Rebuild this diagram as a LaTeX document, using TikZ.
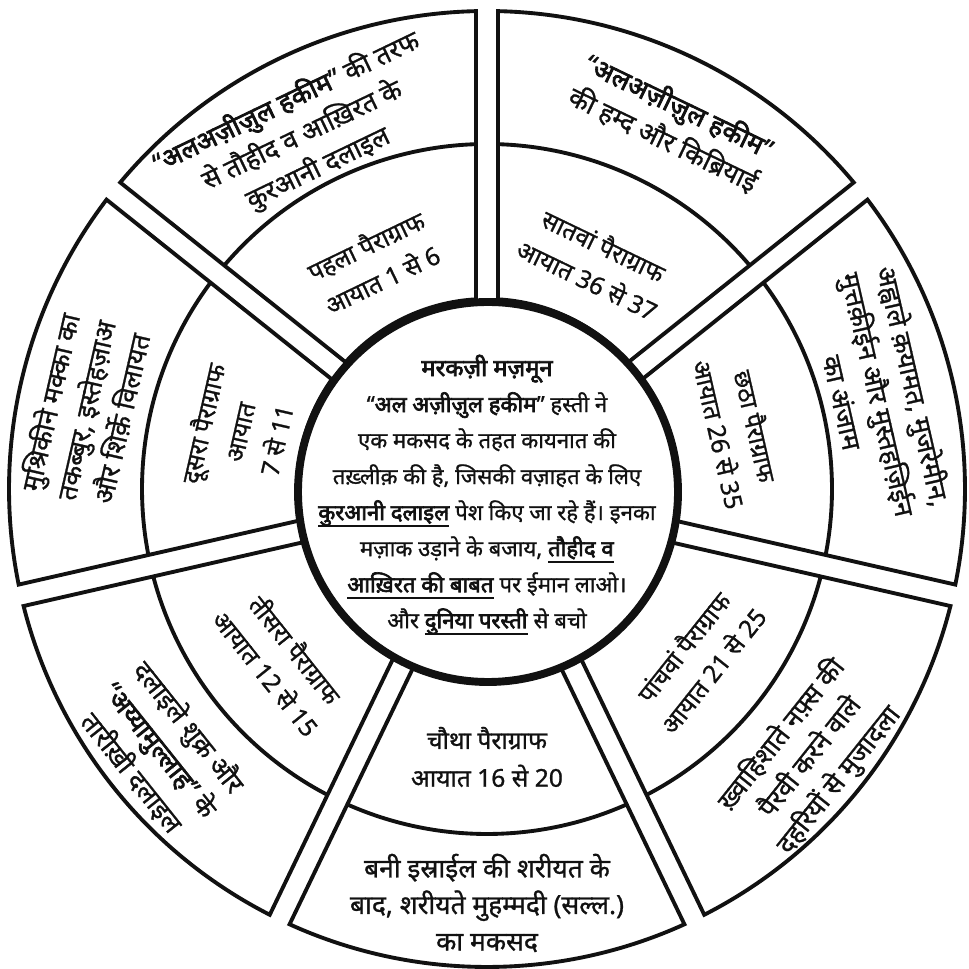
\documentclass[tikz,border=0pt]{standalone}
\usepackage{fontspec}
\setmainfont[Script=Devanagari,FakeBold=1,
  BoldFont={Noto Sans},BoldFeatures={FakeBold=3}]{Noto Sans}
\definecolor{ink}{HTML}{111111}
\tikzset{
  sectorline/.style={draw=ink,line width=2.2pt,line join=miter},
  corering/.style={draw=ink,line width=4.5pt},
  paralabel/.style={align=center,inner sep=0pt,text=ink,
    font=\fontsize{14}{21.5}\selectfont},
  notelabel/.style={align=center,inner sep=0pt,text=ink,
    font=\fontsize{15}{20.8}\selectfont},
  coretext/.style={align=center,inner sep=0pt,text=ink,
    font=\fontsize{12.6}{20.5}\selectfont}
}
\newcommand\thickul[1]{\setbox0=\hbox{#1}\rlap{\rule[-4pt]{\wd0}{1.3pt}}\box0\relax}
\def\rin{3.8}
\def\rmid{6.9}
\def\rout{9.56}
\def\halfgap{0.22}

\begin{document}
\begin{tikzpicture}
\useasboundingbox (-9.74,-9.60) rectangle (9.64,9.78);
\pgfmathsetmacro\din{asin(\halfgap/\rin)}
\pgfmathsetmacro\dmid{asin(\halfgap/\rmid)}
\pgfmathsetmacro\dout{asin(\halfgap/\rout)}
% seven sectors, each split in two by the middle arc
\foreach \k in {0,...,6}{
  \pgfmathsetmacro\ta{90+\k*360/7}
  \pgfmathsetmacro\tb{90+(\k+1)*360/7}
  \pgfmathsetmacro\aIn{\ta+\din}
  \pgfmathsetmacro\bIn{\tb-\din}
  \pgfmathsetmacro\aMid{\ta+\dmid}
  \pgfmathsetmacro\bMid{\tb-\dmid}
  \pgfmathsetmacro\aOut{\ta+\dout}
  \pgfmathsetmacro\bOut{\tb-\dout}
  \draw[sectorline] (\aIn:\rin) -- (\aOut:\rout)
    arc[start angle=\aOut,end angle=\bOut,radius=\rout]
    -- (\bIn:\rin) arc[start angle=\bIn,end angle=\aIn,radius=\rin] -- cycle;
  \draw[sectorline] (\aMid:\rmid) arc[start angle=\aMid,end angle=\bMid,radius=\rmid];
}
\draw[corering,fill=white] (0.02,-0.06) circle (3.8);

% centre
\node[coretext] (markaz) at (0,-0.12) {%
  {\bfseries\fontsize{13.5}{20.5}\selectfont मरकज़ी मज़मून}\\
  “\textbf{अल अज़ीज़ुल हकीम}” हस्ती ने\\
  एक मकसद के तहत कायनात की\\
  तख़्लीक़ की है, जिसकी वज़ाहत के लिए\\
  \thickul{\textbf{कुरआनी दलाइल}} पेश किए जा रहे हैं। इनका\\
  मज़ाक उड़ाने के बजाय, \thickul{\textbf{तौहीद व}}\\
  \thickul{\textbf{आख़िरत की बाबत}} पर ईमान लाओ।\\
  और \thickul{\textbf{दुनिया परस्ती}} से बचो};

% paragraph labels
\node[paralabel,rotate=25.7] (para1) at (116.5:5.08) {पहला पैराग्राफ\\आयात 1 से 6};
\node[paralabel,rotate=77.1] (para2) at (167:5.1) {दूसरा पैराग्राफ\\आयात\\7 से 11};
\node[paralabel,rotate=-51.4] (para3) at (219.9:5.36) {तीसरा पैराग्राफ\\आयात 12 से 15};
\node[paralabel] (para4) at (270:5.36) {चौथा पैराग्राफ\\आयात 16 से 20};
\node[paralabel,rotate=51.4] (para5) at (321.2:5.4) {पांचवां पैराग्राफ\\आयात 21 से 25};
\node[paralabel,rotate=-77.1] (para6) at (13.2:5.16) {छठा पैराग्राफ\\आयात 26 से 35};
\node[paralabel,rotate=-25.7] (para7) at (64.4:5.04) {सातवां पैराग्राफ\\आयात 36 से 37};

% outer notes
\node[notelabel,rotate=25.7] (note1) at (117.6:7.98)
  {“\textbf{अलअज़ीज़ुल हकीम}” की तरफ\\से तौहीद व आख़िरत के\\कुरआनी दलाइल};
\node[notelabel,rotate=77.1] (note2) at (168.9:8.2)
  {मुश्रिकीने मक्का का\\तकब्बुर, इस्तेहज़ाअ\\और शिर्क़े विलायत};
\node[notelabel,rotate=-51.4] (note3) at (218.6:8.36)
  {दलाइले शुक्र और\\“\textbf{अय्यामुल्लाह}” के\\तारीख़ी दलाइल};
\node[notelabel] (note4) at (270:8.28)
  {बनी इस्राईल की शरीयत के\\बाद, शरीयते मुहम्मदी (सल्ल.)\\का मकसद};
\node[notelabel,rotate=51.4] (note5) at (320.3:8.4)
  {ख़्वाहिशाते नफ़्स की\\पैरवी करने वाले\\दहरियों से मुजादला};
\node[notelabel,rotate=-77.1] (note6) at (13.6:8.08)
  {अह्वाले क़यामत, मुजरेमीन,\\मुत्तक़ीईन और मुस्तहज़िईन\\का अंजाम};
\node[notelabel,rotate=-25.7] (note7) at (63.3:8.2)
  {“\textbf{अलअज़ीज़ुल हकीम}”\\की हम्द और किब्रियाई};
\end{tikzpicture}
\end{document}
